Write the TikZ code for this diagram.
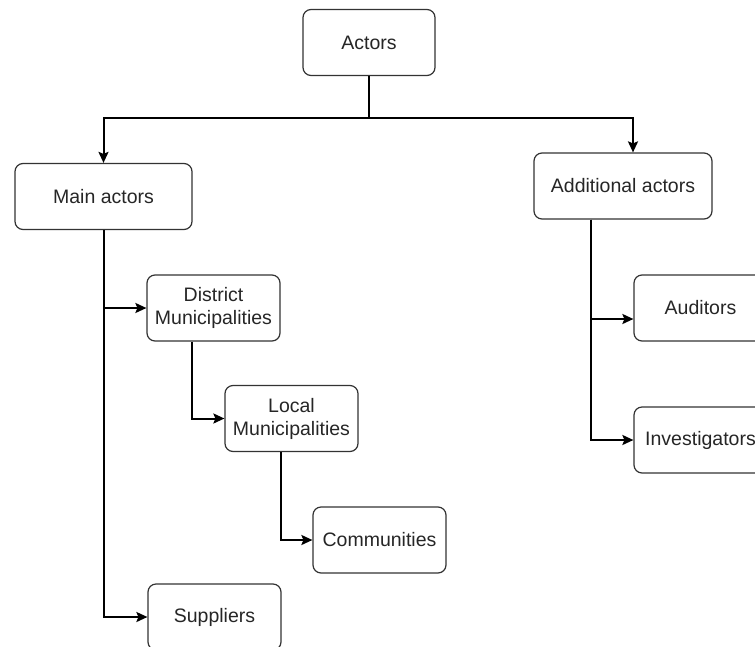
\documentclass[tikz,border=0pt]{standalone}
\usepackage{fontspec}
\setmainfont{Liberation Sans}
\usetikzlibrary{arrows.meta,calc}
\definecolor{boxline}{HTML}{333333}
\definecolor{txt}{HTML}{262626}
\tikzset{
  box/.style={draw=boxline, line width=1.2pt, rounded corners=8pt, fill=white,
    minimum height=66pt, inner sep=2pt, align=center, text=txt,
    font=\fontsize{19.5pt}{23pt}\selectfont},
  conn/.style={draw=black, line width=2pt},
  arr/.style={conn, -{Stealth[length=11pt,width=10pt,inset=2pt]}}
}
\begin{document}
\begin{tikzpicture}[x=1pt,y=1pt]
  \useasboundingbox (0,0) rectangle (755,-646);

  % boxes
  \node[box, minimum width=132pt] (actors) at (369,-42.5) {Actors};
  \node[box, minimum width=177pt] (main) at (103.5,-196.5) {Main actors};
  \node[box, minimum width=178pt] (add) at (623,-186) {Additional actors};
  \node[box, minimum width=133pt] (dist) at (213.5,-308) {District\\Municipalities};
  \node[box, minimum width=133pt] (local) at (291.5,-418.5) {Local\\Municipalities};
  \node[box, minimum width=133pt] (comm) at (379.5,-540) {Communities};
  \node[box, minimum width=133pt] (supp) at (214.5,-617) {Suppliers};
  \node[box, minimum width=133pt] (aud) at (700.5,-308) {Auditors};
  \node[box, minimum width=133pt] (inv) at (700.5,-440) {Investigators};

  % top split
  \coordinate (split) at (369,-118);
  \draw[conn] (actors.south) -- (split);
  \draw[arr] (split) -| (main.north);
  \draw[arr] (split) -| ([xshift=10pt]add.north);

  % main branch
  \draw[arr] (main.south) |- (dist.west);
  \draw[arr] (main.south) |- (supp.west);
  \draw[arr] ([xshift=-21.5pt]dist.south) |- (local.west);
  \draw[arr] ([xshift=-10.5pt]local.south) |- (comm.west);

  % additional branch
  \draw[arr] ([xshift=-32pt]add.south) |- ([yshift=-11pt]aud.west);
  \draw[arr] ([xshift=-32pt]add.south) |- (inv.west);
\end{tikzpicture}
\end{document}
